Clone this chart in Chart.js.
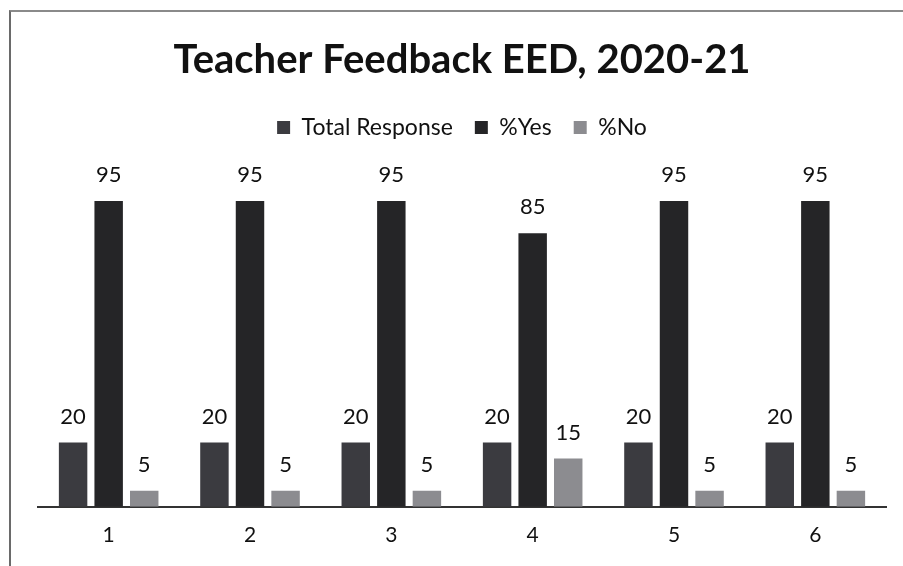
<!DOCTYPE html>
<html>
<head>
<meta charset="utf-8">
<script src="https://cdn.jsdelivr.net/npm/chart.js@4/dist/chart.umd.min.js"></script>
<style>
    html, body { margin: 0; padding: 0; background: #fff; }
    #frame {
        position: absolute; left: 9px; top: 10px; width: 900px; height: 560px;
        border-top: 2px solid #8a8a8a; border-left: 2px solid #6a6a6a;
    }
    #wrap { position: absolute; left: 0; top: 0; width: 903px; height: 566px; }
</style>
</head>
<body>
<div id="frame"></div>
<div id="wrap"><canvas id="feedback"></canvas></div>
<script>
document.addEventListener("DOMContentLoaded", () => {

    const categories = ["1", "2", "3", "4", "5", "6"];
    const totalResponse = [20, 20, 20, 20, 20, 20];
    const pctYes = [95, 95, 95, 85, 95, 95];
    const pctNo = [5, 5, 5, 15, 5, 5];

    const font = "Lato, 'Open Sans', sans-serif";

    // value labels above each bar
    const barLabels = {
        id: "barLabels",
        afterDatasetsDraw(chart) {
            const ctx = chart.ctx;
            ctx.save();
            ctx.fillStyle = "#111";
            ctx.font = "22px " + font;
            ctx.textAlign = "center";
            ctx.textBaseline = "bottom";
            chart.data.datasets.forEach((ds, i) => {
                chart.getDatasetMeta(i).data.forEach((bar, j) => {
                    ctx.fillText(ds.data[j], bar.x, bar.y - 15);
                });
            });
            ctx.restore();
        }
    };

    // extra room under the legend
    const legendGap = {
        id: "legendGap",
        beforeInit(chart) {
            const fit = chart.legend.fit;
            chart.legend.fit = function () {
                fit.bind(this)();
                this.height += 36;
            };
        }
    };

    new Chart(document.getElementById("feedback"), {
        type: "bar",
        data: {
            labels: categories,
            datasets: [
                { label: "Total Response", data: totalResponse, backgroundColor: "#3b3b40" },
                { label: "%Yes", data: pctYes, backgroundColor: "#252527" },
                { label: "%No", data: pctNo, backgroundColor: "#8c8c90" }
            ]
        },
        options: {
            responsive: true,
            maintainAspectRatio: false,
            animation: false,
            layout: { padding: { left: 38, right: 17, top: 36, bottom: 2 } },
            datasets: { bar: { categoryPercentage: 0.755, barPercentage: 0.8 } },
            plugins: {
                title: {
                    display: true,
                    text: "Teacher Feedback EED, 2020-21",
                    color: "#111",
                    font: { family: font, size: 40, weight: "bold" },
                    padding: { top: 0, bottom: 10 }
                },
                legend: {
                    labels: {
                        color: "#111",
                        font: { family: font, size: 23 },
                        boxWidth: 13, boxHeight: 13,
                        padding: 22
                    }
                },
                tooltip: { enabled: false }
            },
            scales: {
                x: {
                    grid: { display: false, drawTicks: false },
                    border: { color: "#333", width: 2 },
                    ticks: { color: "#111", font: { family: font, size: 21 }, padding: 16 }
                },
                y: {
                    display: false,
                    min: 0,
                    max: 100
                }
            }
        },
        plugins: [barLabels, legendGap]
    });
});
</script>
</body>
</html>
